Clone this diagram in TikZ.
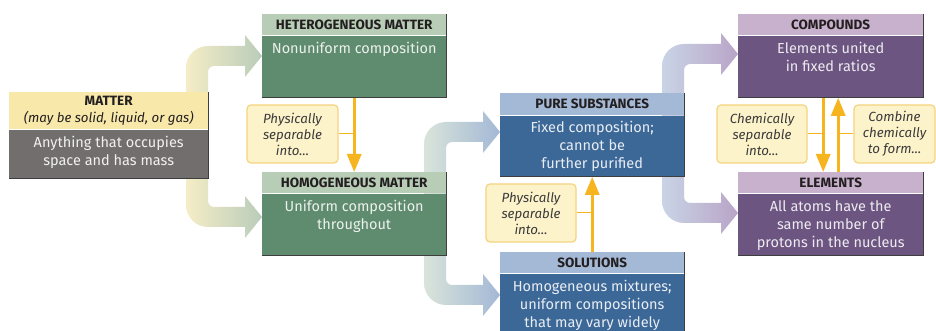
\documentclass[tikz,border=0pt]{standalone}
\usepackage{fontspec}
\setmainfont{Fira Sans}
\usetikzlibrary{arrows.meta}

% box colours
\definecolor{grnHead}{HTML}{B8CDB6}
\definecolor{grnBody}{HTML}{5F8C6E}
\definecolor{bluHead}{HTML}{A4B9D6}
\definecolor{bluBody}{HTML}{3C6898}
\definecolor{purHead}{HTML}{C8B1CC}
\definecolor{purBody}{HTML}{6D5582}
\definecolor{matHead}{HTML}{F8E8AA}
\definecolor{matBody}{HTML}{736E6E}
\definecolor{hdrText}{HTML}{231F20}
\definecolor{edgeDark}{HTML}{3E3E3E}
% note boxes and thin arrows
\definecolor{noteFill}{HTML}{FDF3CB}
\definecolor{noteLine}{HTML}{F4D37F}
\definecolor{noteText}{HTML}{3A3A3A}
\definecolor{gold}{HTML}{F6B51E}
% wide flow arrows
\definecolor{flowYel}{HTML}{F5EDC6}
\definecolor{flowGrn}{HTML}{B9CCBA}
\definecolor{flowPaleG}{HTML}{D9E4DA}
\definecolor{flowBlu}{HTML}{A3B8D6}
\definecolor{flowPaleB}{HTML}{C9D4E6}
\definecolor{flowPur}{HTML}{B9A4C7}

% wide flow arrow rising from a box, turning right:
% #1 left x, #2 right x, #3 start y, #4 centre y (image y, top = 0),
% #5 head base x, #6 tip x, #7/#8 colours left/right
\newcommand\flowup[8]{%
  \shade[left color=#7, right color=#8]
    (#1,{331-#3}) -- (#1,{331-#4-12})
    arc[start angle=180, end angle=90, radius=22]
    -- (#5,{331-#4+10}) -- (#5,{331-#4+21}) -- (#6,{331-#4})
    -- (#5,{331-#4-21}) -- (#5,{331-#4-10}) -- ({#2+6},{331-#4-10})
    arc[start angle=90, end angle=180, radius=6]
    -- (#2,{331-#3}) -- cycle;}
% same, falling from a box, turning right
\newcommand\flowdown[8]{%
  \shade[left color=#7, right color=#8]
    (#1,{331-#3}) -- (#1,{331-#4+12})
    arc[start angle=180, end angle=270, radius=22]
    -- (#5,{331-#4-10}) -- (#5,{331-#4-21}) -- (#6,{331-#4})
    -- (#5,{331-#4+21}) -- (#5,{331-#4+10}) -- ({#2+6},{331-#4+10})
    arc[start angle=270, end angle=180, radius=6]
    -- (#2,{331-#3}) -- cycle;}

\begin{document}
\begin{tikzpicture}[x=1pt, y=1pt,
  hdr/.style={fill=#1, inner sep=0pt, anchor=north west, text=hdrText,
    font=\fontsize{13.5}{15}\selectfont\bfseries},
  bodybox/.style={fill=#1, inner sep=0pt, anchor=north},
  btxt/.style={inner sep=0pt, anchor=north, align=center, text=#1,
    font=\fontsize{14.5}{18}\selectfont},
  note/.style={fill=noteFill, draw=noteLine, line width=1.2pt,
    rounded corners=4pt, inner sep=0pt, align=center, text=noteText,
    font=\fontsize{13.3}{16}\selectfont\itshape},
  goldarrow/.style={draw=gold, line width=3pt,
    -{Triangle[width=14pt, length=18pt]}},
  goldtie/.style={draw=gold, line width=1pt},
  edge/.style={draw=edgeDark, line width=0.8pt}
]
\useasboundingbox (0,0) rectangle (936,331);
\fill[white] (0,0) rectangle (936,331);

% wide flow arrows, drawn first so the boxes cover their roots
\flowup{186}{208}{100}{56}{245}{262}{flowYel}{flowGrn}
\flowdown{186}{208}{170}{217}{245}{262}{flowYel}{flowGrn}
\flowup{424}{446}{210}{132}{483}{500}{flowPaleG}{flowBlu}
\flowdown{424}{446}{210}{295}{483}{500}{flowPaleG}{flowBlu}
\flowup{662}{684}{134}{54}{721}{738}{flowPaleB}{flowPur}
\flowdown{662}{684}{134}{213}{721}{738}{flowPaleB}{flowPur}

% MATTER
\node[hdr=matHead, minimum width=199pt, minimum height=37pt, align=center,
      font=\fontsize{13.5}{17}\selectfont] (matH) at (9,239)
  {\bfseries MATTER\\\itshape\fontsize{13.3}{17}\selectfont (may be solid, liquid, or gas)};
\node[bodybox=matBody, minimum width=199pt, minimum height=49pt] (matB) at (matH.south) {};
\node[btxt=white!90!matBody] (matT) at ([yshift=-7pt]matB.north)
  {Anything that occupies\\space and has mass};
\draw[edge] (matH.north east) -- (matB.south east) -- (matB.south west);

% HETEROGENEOUS MATTER
\node[hdr=grnHead, minimum width=184pt, minimum height=21pt] (hetH) at (262,317)
  {HETEROGENEOUS MATTER};
\node[bodybox=grnBody, minimum width=184pt, minimum height=62pt] (hetB) at (hetH.south) {};
\node[btxt=white!88!grnBody] (hetT) at ([yshift=-7pt]hetB.north)
  {Nonuniform composition};
\draw[edge] (hetH.north east) -- (hetB.south east) -- (hetB.south west);

% HOMOGENEOUS MATTER
\node[hdr=grnHead, minimum width=184pt, minimum height=21pt] (homH) at (262,159)
  {HOMOGENEOUS MATTER};
\node[bodybox=grnBody, minimum width=184pt, minimum height=62pt] (homB) at (homH.south) {};
\node[btxt=white!88!grnBody] (homT) at ([yshift=-7pt]homB.north)
  {Uniform composition\\throughout};
\draw[edge] (homH.north east) -- (homB.south east) -- (homB.south west);

% PURE SUBSTANCES
\node[hdr=bluHead, minimum width=184pt, minimum height=22pt] (purH) at (500,238)
  {PURE SUBSTANCES};
\node[bodybox=bluBody, minimum width=184pt, minimum height=61pt] (purB) at (purH.south) {};
\node[btxt=white!88!bluBody] (purT) at ([yshift=-6pt]purB.north)
  {Fixed composition;\\cannot be\\further purified};
\draw[edge] (purH.north east) -- (purB.south east) -- (purB.south west);

% SOLUTIONS
\node[hdr=bluHead, minimum width=184pt, minimum height=21pt] (solH) at (500,79)
  {SOLUTIONS};
\node[bodybox=bluBody, minimum width=184pt, minimum height=62pt] (solB) at (solH.south) {};
\node[btxt=white!88!bluBody] (solT) at ([yshift=-7pt]solB.north)
  {Homogeneous mixtures;\\uniform compositions\\that may vary widely};
\draw[edge] (solH.north east) -- (solB.south east);

% COMPOUNDS
\node[hdr=purHead, minimum width=185pt, minimum height=21pt] (cmpH) at (738,317)
  {COMPOUNDS};
\node[bodybox=purBody, minimum width=185pt, minimum height=62pt] (cmpB) at (cmpH.south) {};
\node[btxt=white!88!purBody] (cmpT) at ([yshift=-7pt]cmpB.north)
  {Elements united\\in fixed ratios};
\draw[edge] (cmpH.north east) -- (cmpB.south east) -- (cmpB.south west);

% ELEMENTS
\node[hdr=purHead, minimum width=185pt, minimum height=21pt] (eleH) at (738,159)
  {ELEMENTS};
\node[bodybox=purBody, minimum width=185pt, minimum height=62pt] (eleB) at (eleH.south) {};
\node[btxt=white!88!purBody] (eleT) at ([yshift=-7pt]eleB.north)
  {All atoms have the\\same number of\\protons in the nucleus};
\draw[edge] (eleH.north east) -- (eleB.south east) -- (eleB.south west);

% note boxes
\node[note, minimum width=91pt, minimum height=58pt] (n1) at (292.5,197)
  {Physically\\separable\\into...};
\node[note, minimum width=90pt, minimum height=58pt] (n2) at (531,118)
  {Physically\\separable\\into...};
\node[note, minimum width=90pt, minimum height=58pt] (n3) at (762,197)
  {Chemically\\separable\\into...};
\node[note, minimum width=81pt, minimum height=58pt] (n4) at (894.5,197)
  {Combine\\chemically\\to form...};

% gold arrows between boxes
\coordinate (dn) at ([xshift=-7.5pt]cmpB.south);
\coordinate (up) at ([xshift=7.5pt]cmpB.south);
\draw[goldarrow] (hetB.south) -- (homH.north);
\draw[goldarrow] (solH.north) -- (purB.south);
\draw[goldarrow] (dn) -- (dn |- eleH.north);
\draw[goldarrow] (up |- eleH.north) -- (up);

% ties from the notes to the arrows
\draw[goldtie] (n1.east) -- (n1.east -| hetB.south);
\draw[goldtie] (n2.east) -- (n2.east -| solH.north);
\draw[goldtie] (n3.east) -- (n3.east -| dn);
\draw[goldtie] (n4.west) -- (n4.west -| up);
\end{tikzpicture}
\end{document}
